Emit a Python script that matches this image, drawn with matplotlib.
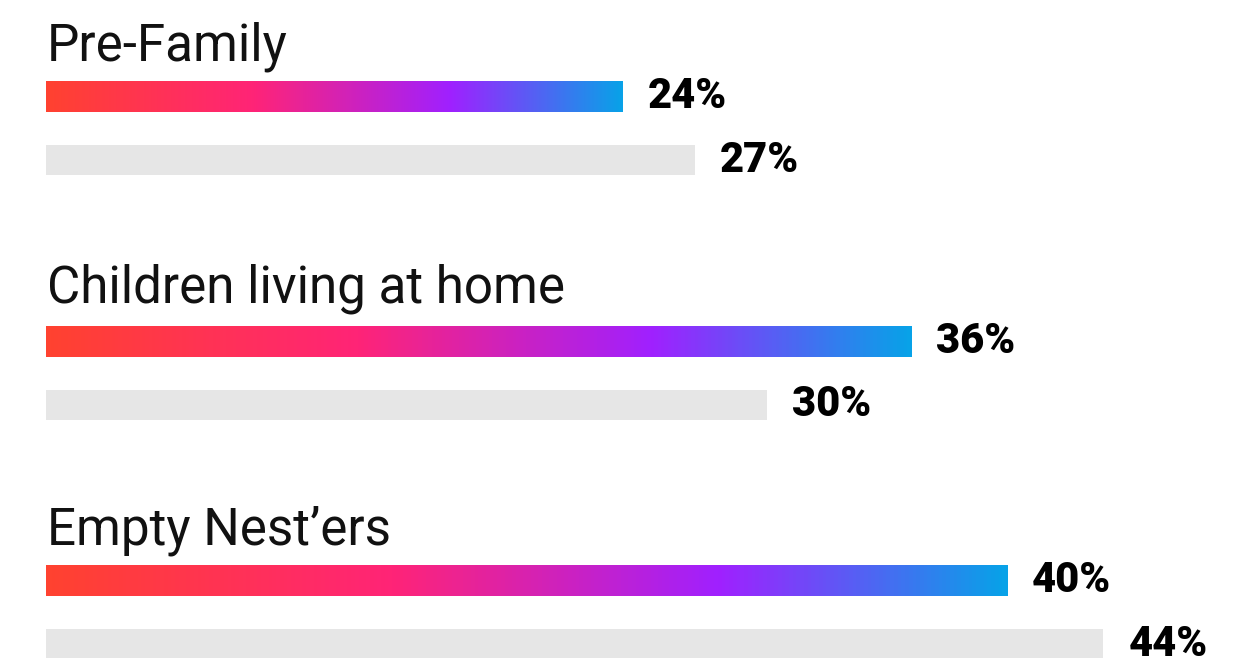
import numpy as np
import matplotlib.pyplot as plt
from matplotlib.colors import LinearSegmentedColormap

groups = ["Pre-Family", "Children living at home", "Empty Nest\u2019ers"]
highlight = [24, 36, 40]
baseline = [27, 30, 44]

# gradient used on the highlighted bars
grad = LinearSegmentedColormap.from_list(
    "grad", [(0.0, "#ff4230"), (0.36, "#ff2477"), (0.70, "#a020ff"), (1.0, "#08a2e8")])

W, H = 1255, 658
fig = plt.figure(figsize=(W / 100, H / 100), dpi=100)
left = 46
ax = fig.add_axes([left / W, 0, 1 - left / W, 1])
px_per_pct = 24.03
ax.set_xlim(0, (W - left) / px_per_pct)
ax.set_ylim(H, 0)  # y axis in pixels, top-down
ax.axis("off")

# vertical layout (pixel rows)
grad_y = [96.5, 341.5, 580.5]
gray_y = [160, 405, 644]
title_y = [61, 303, 545]

gradient = np.linspace(0, 1, 256).reshape(1, -1)
label_kw = dict(fontsize=30, fontweight="black", family=["Roboto", "DejaVu Sans"],
                va="center", ha="left", textcoords="offset points", color="black")

for i, name in enumerate(groups):
    ax.text(0.05, title_y[i], name, fontsize=36.8, family=["Roboto", "DejaVu Sans"],
            va="baseline", ha="left", color="#111111")

    b = ax.barh(grad_y[i], highlight[i], height=31, color="none", left=0)[0]
    im = ax.imshow(gradient, cmap=grad, aspect="auto",
                   extent=[b.get_x(), b.get_x() + b.get_width(),
                           b.get_y() + b.get_height(), b.get_y()],
                   interpolation="bilinear")
    im.set_clip_path(b)
    ax.annotate(f"{highlight[i]}%", (highlight[i], grad_y[i]), xytext=(18, 0), **label_kw)

    ax.barh(gray_y[i], baseline[i], height=30, color="#e6e6e6", left=0)
    ax.annotate(f"{baseline[i]}%", (baseline[i], gray_y[i]), xytext=(18, 0), **label_kw)

ax.set_xlim(0, (W - left) / px_per_pct)
ax.set_ylim(H, 0)
fig.savefig("out.png", dpi=100)
